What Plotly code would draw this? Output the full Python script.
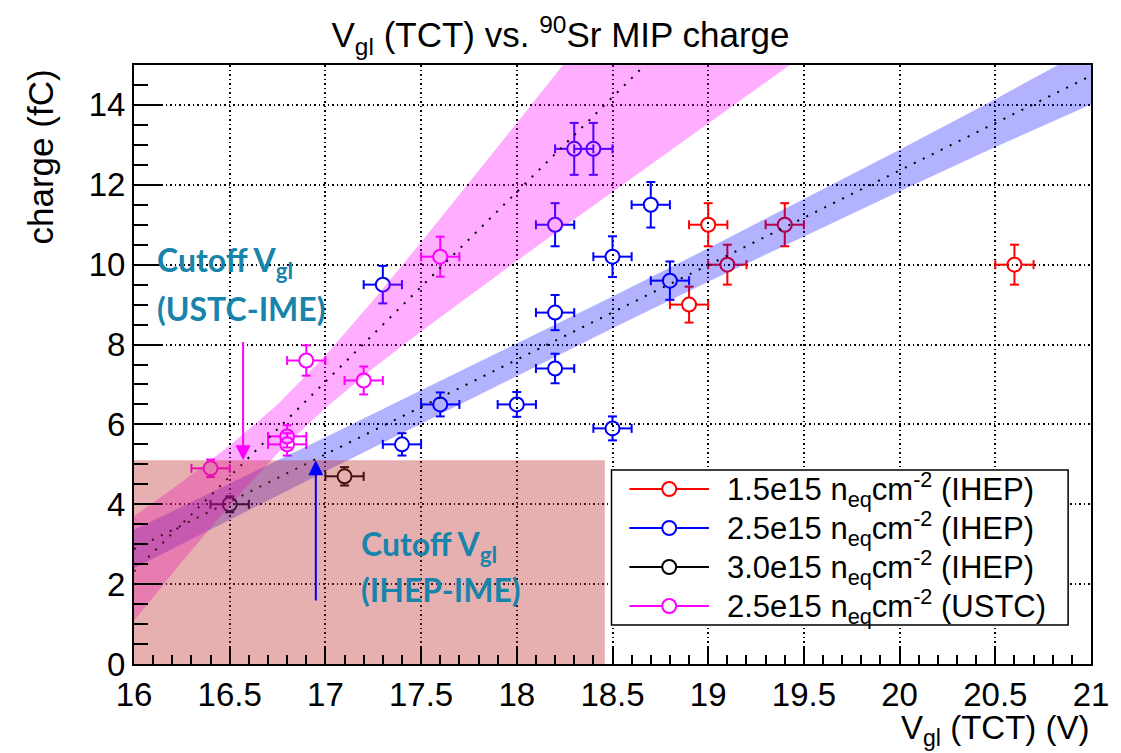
import plotly.graph_objects as go

# ---------------------------------------------------------------- data
# 1.5e15 neq/cm2 (IHEP)
vgl_15 = [18.9, 19.0, 19.1, 19.4, 20.6]
q_15 = [9.0, 11.0, 10.0, 11.0, 10.0]
eq_15 = [0.45, 0.54, 0.50, 0.54, 0.50]
ev_15 = [0.1, 0.1, 0.1, 0.1, 0.1]

# 2.5e15 neq/cm2 (IHEP)
vgl_25 = [17.3, 17.4, 17.6, 18.0, 18.2, 18.2, 18.2, 18.3, 18.4, 18.5, 18.5, 18.7, 18.8]
q_25 = [9.5, 5.5, 6.5, 6.5, 7.4, 8.8, 11.0, 12.9, 12.9, 5.9, 10.2, 11.5, 9.6]
eq_25 = [0.47, 0.28, 0.30, 0.31, 0.37, 0.44, 0.54, 0.65, 0.65, 0.30, 0.51, 0.57, 0.48]
ev_25 = [0.1] * 13

# 3.0e15 neq/cm2 (IHEP)
vgl_30 = [16.5, 17.1]
q_30 = [4.0, 4.7]
eq_30 = [0.20, 0.23]
ev_30 = [0.1, 0.1]

# 2.5e15 neq/cm2 (USTC)
vgl_us = [16.4, 16.8, 16.8, 16.9, 17.2, 17.6]
q_us = [4.9, 5.5, 5.7, 7.6, 7.1, 10.2]
eq_us = [0.22, 0.28, 0.28, 0.38, 0.35, 0.50]
ev_us = [0.1] * 6

# linear fits (end points) and their confidence bands
fit_ihep_x = [16.0, 21.0]
fit_ihep_y = [2.88, 14.73]
band_ihep_x = [16.0, 16.5, 17.0, 17.5, 18.0, 18.5, 19.0, 19.5, 20.0, 20.5, 21.0]
band_ihep_lo = [2.40, 3.615, 4.82, 6.015, 7.22, 8.405, 9.57, 10.715, 11.84, 12.945, 14.01]
band_ihep_hi = [3.36, 4.515, 5.68, 6.855, 8.02, 9.205, 10.41, 11.635, 12.88, 14.145, 15.45]

fit_ustc_x = [16.0, 19.0]
fit_ustc_y = [2.32, 16.57]
band_ustc_x = [16.0, 16.25, 16.5, 16.75, 17.0, 17.25, 17.5, 17.75,
               18.0, 18.25, 18.5, 18.75, 19.0, 19.25, 19.5]
band_ustc_lo = [1.085, 2.554, 3.971, 5.279, 6.412, 7.404, 8.326, 9.218,
                10.093, 10.962, 11.824, 12.685, 13.542, 14.399, 15.253]
band_ustc_hi = [3.70, 4.56, 5.47, 6.50, 7.728, 9.112, 10.564, 12.048,
                13.547, 15.054, 16.566, 18.08, 19.598, 21.12, 22.64]

# rejected region and cut-off voltages
cut_charge = 5.1
cut_box_v = [16.0, 18.46]
cut_vgl_ustc = 16.57
cut_vgl_ihep = 16.95
arrow_tail_ustc = 8.1
arrow_tail_ihep = 1.55

series_names = [
    "1.5e15 n<sub>eq</sub>cm<sup>-2</sup> (IHEP)",
    "2.5e15 n<sub>eq</sub>cm<sup>-2</sup> (IHEP)",
    "3.0e15 n<sub>eq</sub>cm<sup>-2</sup> (IHEP)",
    "2.5e15 n<sub>eq</sub>cm<sup>-2</sup> (USTC)",
]
series_colors = ["#ff0000", "#0000ff", "#000000", "#ff00ff"]

# ---------------------------------------------------------------- geometry
W, H = 1121, 753
ML, MR, MT, MB = 134, 25, 65, 89
PLOT_W = W - ML - MR
PLOT_H = H - MT - MB
X_RANGE = [16, 21]
Y_RANGE = [0, 15]
PX_PER_X = PLOT_W / (X_RANGE[1] - X_RANGE[0])
PX_PER_Y = PLOT_H / (Y_RANGE[1] - Y_RANGE[0])

FONT = "Liberation Sans, Arial, Helvetica, sans-serif"
TEAL = "#1884ab"
MARKER_R = 7      # px
CAP_HALF = 4.5    # px


def px_x(p):
    return (p - ML) / PLOT_W


def px_y(p):
    return (H - MB - p) / PLOT_H


def error_segments(xs, ys, exs, eys):
    """Error bars with end caps that stop at the edge of the open marker."""
    rx, ry = MARKER_R / PX_PER_X, MARKER_R / PX_PER_Y
    cx, cy = CAP_HALF / PX_PER_X, CAP_HALF / PX_PER_Y
    X, Y = [], []
    for x, y, ex, ey in zip(xs, ys, exs, eys):
        gx, gy = min(rx, ex), min(ry, ey)
        X += [x - ex, x - gx, None, x + gx, x + ex, None]
        Y += [y, y, None, y, y, None]
        X += [x, x, None, x, x, None]
        Y += [y - ey, y - gy, None, y + gy, y + ey, None]
        X += [x - ex, x - ex, None, x + ex, x + ex, None]
        Y += [y - cy, y + cy, None, y - cy, y + cy, None]
        X += [x - cx, x + cx, None, x - cx, x + cx, None]
        Y += [y - ey, y - ey, None, y + ey, y + ey, None]
    return X, Y


fig = go.Figure()

# ---------------------------------------------------------------- points
groups = [
    (vgl_15, q_15, ev_15, eq_15),
    (vgl_25, q_25, ev_25, eq_25),
    (vgl_30, q_30, ev_30, eq_30),
    (vgl_us, q_us, ev_us, eq_us),
]
for (xs, ys, exs, eys), name, col in zip(groups, series_names, series_colors):
    ex_x, ex_y = error_segments(xs, ys, exs, eys)
    fig.add_trace(go.Scatter(x=ex_x, y=ex_y, mode="lines",
                             line=dict(color=col, width=2),
                             hoverinfo="skip", showlegend=False))
    fig.add_trace(go.Scatter(x=xs, y=ys, mode="markers", name=name,
                             marker=dict(symbol="circle-open", size=2 * MARKER_R,
                                         color=col, line=dict(width=2, color=col)),
                             showlegend=False))

# ---------------------------------------------------------------- bands
fig.add_trace(go.Scatter(
    x=band_ihep_x + band_ihep_x[::-1], y=band_ihep_hi + band_ihep_lo[::-1],
    fill="toself", fillcolor="rgba(0,0,255,0.30)", line=dict(width=0),
    mode="lines", hoverinfo="skip", showlegend=False))
fig.add_trace(go.Scatter(
    x=band_ustc_x + band_ustc_x[::-1], y=band_ustc_hi + band_ustc_lo[::-1],
    fill="toself", fillcolor="rgba(255,0,255,0.32)", line=dict(width=0),
    mode="lines", hoverinfo="skip", showlegend=False))

for fx, fy in [(fit_ihep_x, fit_ihep_y), (fit_ustc_x, fit_ustc_y)]:
    fig.add_trace(go.Scatter(x=fx, y=fy, mode="lines",
                             line=dict(color="black", width=2, dash="2px,8px"),
                             hoverinfo="skip", showlegend=False))

# rejected region
fig.add_trace(go.Scatter(
    x=[cut_box_v[0], cut_box_v[1], cut_box_v[1], cut_box_v[0], cut_box_v[0]],
    y=[0, 0, cut_charge, cut_charge, 0],
    fill="toself", fillcolor="rgba(190,40,40,0.37)", line=dict(width=0),
    mode="lines", hoverinfo="skip", showlegend=False))

# ---------------------------------------------------------------- annotations
ann = []
for xv, tail, col in [(cut_vgl_ustc, arrow_tail_ustc, "#ff00ff"),
                      (cut_vgl_ihep, arrow_tail_ihep, "#0000ff")]:
    ann.append(dict(x=xv, y=cut_charge, ax=xv, ay=tail, xref="x", yref="y",
                    axref="x", ayref="y", text="", showarrow=True,
                    arrowhead=2, arrowsize=1.5, arrowwidth=2, arrowcolor=col))

teal_font = dict(family="Lato, Carlito, sans-serif", size=32, color=TEAL, weight="bold")
for txt, xp, yp in [("Cutoff V<sub>gl</sub>", 155, 262),
                    ("(USTC-IME)", 155, 308),
                    ("Cutoff V<sub>gl</sub>", 360, 546),
                    ("(IHEP-IME)", 360, 589)]:
    ann.append(dict(x=px_x(xp), y=px_y(yp), xref="paper", yref="paper",
                    xanchor="left", yanchor="middle", text=txt,
                    showarrow=False, font=teal_font))

# axis titles
ann.append(dict(x=1.0, y=px_y(730), xref="paper", yref="paper",
                xanchor="right", yanchor="middle", showarrow=False,
                text="V<sub>gl</sub> (TCT) (V)", font=dict(family=FONT, size=33, color="black")))
ann.append(dict(x=px_x(40), y=px_y(157), xref="paper", yref="paper",
                xanchor="center", yanchor="middle", textangle=-90, showarrow=False,
                text="charge (fC)", font=dict(family=FONT, size=35, color="black")))

# legend
shapes = []
LEG_X0, LEG_X1, LEG_Y0, LEG_Y1 = 614, 1073, 470, 625
LEG_ROWS = [489, 528, 567, 606]
shapes.append(dict(type="rect", xref="paper", yref="paper",
                   x0=px_x(LEG_X0), x1=px_x(LEG_X1), y0=px_y(LEG_Y1), y1=px_y(LEG_Y0),
                   fillcolor="white", line=dict(color="black", width=1.5), layer="above"))
for row, name, col in zip(LEG_ROWS, series_names, series_colors):
    shapes.append(dict(type="line", xref="paper", yref="paper",
                       x0=px_x(632), x1=px_x(712), y0=px_y(row), y1=px_y(row),
                       line=dict(color=col, width=2), layer="above"))
    shapes.append(dict(type="circle", xref="paper", yref="paper",
                       xsizemode="pixel", ysizemode="pixel",
                       xanchor=px_x(672), yanchor=px_y(row),
                       x0=-MARKER_R, x1=MARKER_R, y0=-MARKER_R, y1=MARKER_R,
                       fillcolor="white", line=dict(color=col, width=2), layer="above"))
    ann.append(dict(x=px_x(728), y=px_y(row), xref="paper", yref="paper",
                    xanchor="left", yanchor="middle", showarrow=False, text=name,
                    font=dict(family=FONT, size=31, color="black")))

# ---------------------------------------------------------------- layout
axis_common = dict(showline=True, linecolor="black", linewidth=2, mirror=True,
                   ticks="inside", tickcolor="black", tickwidth=1.5,
                   showgrid=True, gridcolor="black", gridwidth=1.5, griddash="1.5px,3px",
                   zeroline=False, tickfont=dict(family=FONT, size=33, color="black"))

fig.update_layout(
    width=W, height=H, autosize=False,
    margin=dict(l=ML, r=MR, t=MT, b=MB, pad=0),
    paper_bgcolor="white", plot_bgcolor="white",
    title=dict(text="V<sub>gl</sub> (TCT) vs. <sup>90</sup>Sr MIP charge",
               x=0.5, xref="container", xanchor="center",
               y=1 - 35 / H, yref="container", yanchor="middle",
               font=dict(family=FONT, size=35, color="black")),
    xaxis=dict(range=X_RANGE, dtick=0.5, tick0=16, ticklen=18,
               minor=dict(dtick=0.1, ticklen=9, tickwidth=1.5, tickcolor="black",
                          ticks="inside", showgrid=False),
               **axis_common),
    yaxis=dict(range=Y_RANGE, dtick=2, tick0=0, ticklen=28,
               minor=dict(dtick=0.5, ticklen=14, tickwidth=1.5, tickcolor="black",
                          ticks="inside", showgrid=False),
               **axis_common),
    annotations=ann, shapes=shapes, showlegend=False,
)

fig.write_html("out.html")
